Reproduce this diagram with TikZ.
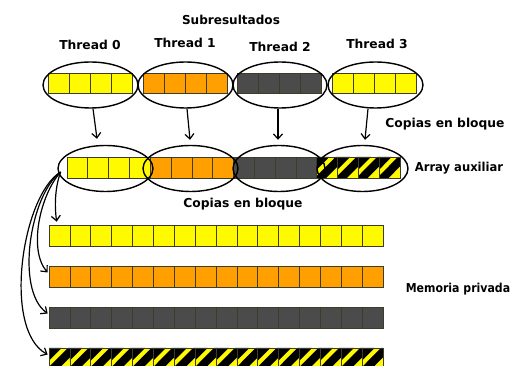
\documentclass[tikz,border=0pt]{standalone}
\usepackage{fontspec}
\setmainfont{DejaVu Sans}
\usetikzlibrary{shapes.geometric,calc,arrows.meta}
\definecolor{cyellow}{RGB}{255,250,0}
\definecolor{corange}{RGB}{255,160,0}
\definecolor{cgray}{RGB}{75,75,75}
\definecolor{cline}{RGB}{60,60,40}
\newcommand\hatchcells[5]{%
  \foreach \i in {0,...,#3}{%
    \begin{scope}[shift={(#1+\i*#4,#2)}, x=#4pt, y=-#5pt]
      \fill[cyellow] (0,0) rectangle (1,1);
      \fill[black] (0,0) -- (0,0.6) -- (0.6,0) -- cycle;
      \fill[black] (0,0.9) -- (0,1) -- (0.45,1) -- (1,0.45) -- (1,0) -- (0.9,0) -- cycle;
      \draw[cellline] (0,0) rectangle (1,1);
    \end{scope}}}
\tikzset{
  cellline/.style={draw=cline, line width=0.7pt},
  cells/.style={path picture={\foreach \k in {1,...,#1}{\draw[cellline] ($(path picture bounding box.north west)!\k/#1!(path picture bounding box.north east)$) -- ($(path picture bounding box.south west)!\k/#1!(path picture bounding box.south east)$);}}},
  arrbox/.style={rectangle, draw=cline, line width=0.7pt, inner sep=0pt},
  toparr/.style={arrbox, cells=4, minimum width=84pt, minimum height=20pt},
  midarr/.style={arrbox, cells=4, minimum width=83.25pt, minimum height=21pt},
  botarr/.style={arrbox, cells=16, minimum width=334pt, minimum height=21pt},
  ell/.style={ellipse, draw=black, line width=1.4pt, inner sep=0pt, minimum width=95pt, minimum height=46pt},
  lbl/.style={font=\fontsize{12.3}{14}\selectfont\bfseries, inner sep=0pt, text=black},
  arw/.style={draw=black, line width=1.2pt, -{Straight Barb[length=5pt,width=9pt]}},
}
\begin{document}
\begin{tikzpicture}[x=1pt,y=-1pt]
\useasboundingbox[fill=white] (0,0) rectangle (512,366);
% labels
\node[lbl] (sub) at (231,20) {\scalebox{0.98}[1]{Subresultados}};
\node[lbl] (th0) at (90,45) {Thread 0};
\node[lbl] (th1) at (185,43) {Thread 1};
\node[lbl] (th2) at (280,47) {Thread 2};
\node[lbl] (th3) at (377,44) {Thread 3};
\node[lbl] (cop1) at (445,124) {Copias en bloque};
\node[lbl] (aux) at (459,168) {\scalebox{0.94}[1]{Array auxiliar}};
\node[lbl] (cop2) at (243,204) {Copias en bloque};
\node[lbl] (mem) at (458,289) {\scalebox{0.89}[1]{Memoria privada}};
% top arrays
\node[toparr, fill=cyellow] (t0) at (90,83) {};
\node[toparr, fill=corange] (t1) at (185,83) {};
\node[toparr, fill=cgray] (t2) at (279.5,83) {};
\node[toparr, fill=cyellow] (t3) at (374.5,83) {};
\node[ell] (te0) at (90.5,85) {};
\node[ell] (te1) at (185.5,85) {};
\node[ell, minimum width=94pt] (te2) at (280,85) {};
\node[ell] (te3) at (375.5,85) {};
% middle array
\node[midarr, fill=cyellow] (m0) at (108.625,167.5) {};
\node[midarr, fill=corange] (m1) at (191.875,167.5) {};
\node[midarr, fill=cgray] (m2) at (275.125,167.5) {};
\hatchcells{316.75}{157}{3}{20.8125}{21}
\node[midarr] (m3) at (358.375,167.5) {};
\node[ell] (me0) at (105.5,168.5) {};
\node[ell] (me1) at (190.5,168.5) {};
\node[ell, minimum width=92pt] (me2) at (279,168.5) {};
\node[ell, minimum width=91pt] (me3) at (362.5,168.5) {};
% bottom arrays
\node[botarr, fill=cyellow] (b0) at (216,235.5) {};
\node[botarr, fill=corange] (b1) at (216,276.5) {};
\node[botarr, fill=cgray] (b2) at (216,317.5) {};
\hatchcells{49}{348}{15}{20.875}{21}
\node[botarr] (b3) at (216,358.5) {};
% block copy arrows
\draw[arw] ([xshift=2.5pt]te0.south) -- ($(me0.north)+(-8.5,-6)$);
\draw[arw] ([xshift=1.5pt]te1.south) -- ($(me1.north)+(-0.5,-5)$);
\draw[arw] ([xshift=-2pt]te2.south) -- ($(me2.north)+(-1,-5)$);
\draw[arw] ([xshift=-7.5pt]te3.south) -- ($(me3.north)+(2.5,-5)$);
% curved arrows to private memory
\coordinate (src) at ($(m0.west)+(-6,4.5)$);
\draw[arw] (src) .. controls (54,190) and (55,210) .. ($(b0.north west)+(8,-3)$);
\draw[arw] (src) .. controls (40,195) and (28,250) .. ($(b1.west)+(-1,-4)$);
\draw[arw] (src) .. controls (30,195) and (15,290) .. ($(b2.west)+(-1,-4)$);
\draw[arw] (src) .. controls (22,195) and (2,330) .. ($(b3.west)+(-1,-4)$);
\end{tikzpicture}
\end{document}
